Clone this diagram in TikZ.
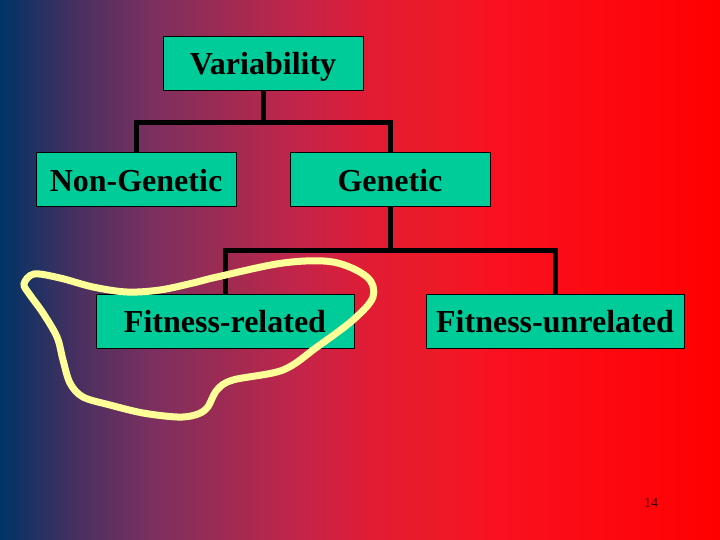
\documentclass[tikz,border=0pt]{standalone}
\usepackage{fontspec}
\setmainfont{Liberation Serif}
\usetikzlibrary{positioning}

\definecolor{boxgreen}{RGB}{0,204,153}
\definecolor{ringyellow}{RGB}{255,255,153}
\definecolor{bgA}{RGB}{0,51,102}
\definecolor{bgB}{RGB}{72,48,96}
\definecolor{bgC}{RGB}{122,48,96}
\definecolor{bgD}{RGB}{165,42,80}
\definecolor{bgE}{RGB}{196,36,74}
\definecolor{bgF}{RGB}{224,28,52}
\definecolor{bgG}{RGB}{236,26,40}
\definecolor{bgH}{RGB}{250,16,32}
\definecolor{bgI}{RGB}{255,0,0}
\pgfdeclarehorizontalshading{slidefade}{100bp}{color(0bp)=(bgA); color(25bp)=(bgA);
  color(30.35bp)=(bgB); color(35.42bp)=(bgC); color(41.67bp)=(bgD); color(45.83bp)=(bgE);
  color(50.49bp)=(bgF); color(55.07bp)=(bgG); color(59.72bp)=(bgH); color(75bp)=(bgI); color(100bp)=(bgI)}

\tikzset{
  box/.style={draw=black, line width=1pt, fill=boxgreen, minimum height=54pt, inner sep=0pt,
    text height=26pt, text depth=3pt, font=\fontsize{32}{38}\selectfont\bfseries},
  shortbox/.style={box, minimum width=200pt},
  longbox/.style={box, minimum width=258pt},
  link/.style={line width=5pt},
  ring/.style={draw=ringyellow, line width=7pt},
}

\begin{document}
\begin{tikzpicture}[x=1pt,y=-1pt]
  \useasboundingbox (0,0) rectangle (720,540);
  \shade[shading=slidefade] (0,0) rectangle (720,540);

  % tree
  \node[shortbox] (var) at (263,63.5) {Variability};
  \node[shortbox] (nongen) at (136,180) {Non-Genetic};
  \node[shortbox] (gen) at (390,180) {Genetic};
  \node[longbox] (fitrel) at (225,321) {Fitness-related};
  \node[longbox] (fitunrel) at (555,321) {Fitness-unrelated};

  \draw[link] (var.south) -- ++(0,32) coordinate (split) -| (nongen.north);
  \draw[link] (split) -| (gen.north);
  \draw[link] (gen.south) -- ++(0,43) coordinate (gsplit) -| (fitrel.north);
  \draw[link] (gsplit) -| (fitunrel.north);

  % hand drawn ring
  \draw[ring] plot[smooth cycle, tension=0.55] coordinates {(34,274) (60,278) (93,287) (127,292)
    (160,290) (193,283) (217,277) (283,263) (333,262) (367,277) (373,297) (353,320) (317,347)
    (283,370) (233,380) (217,390) (207,408) (195,415) (177,417) (143,413) (110,405) (83,397)
    (70,383) (63,360) (57,337) (43,313) (30,295) (24,284)};

  \node[font=\fontsize{14}{16}\selectfont, text=black!80!red] (pagenum) at (651,503) {14};
\end{tikzpicture}
\end{document}
